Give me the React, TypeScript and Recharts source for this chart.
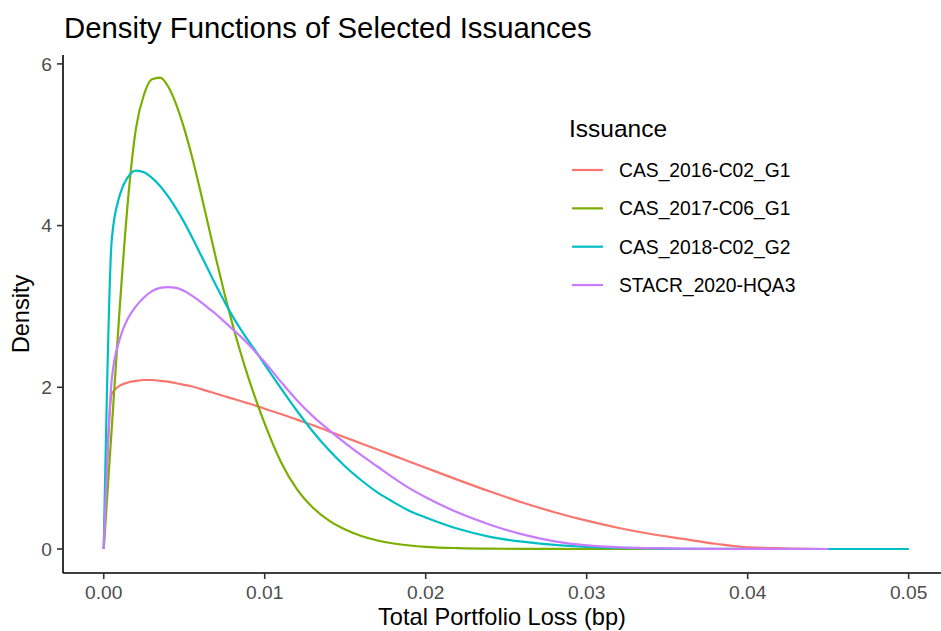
import { LineChart, Line, XAxis, YAxis, Legend, Label } from "recharts";

const FONT = "'Liberation Sans', Arial, Helvetica, sans-serif";

// loss grid (bp) shared by all four density curves
const lossGrid = [
  0, 0.0005, 0.001, 0.0015, 0.002, 0.0025, 0.003, 0.0035, 0.004, 0.0045, 0.005,
  0.0055, 0.006, 0.0065, 0.007, 0.0075, 0.008, 0.0085, 0.009, 0.0095, 0.01,
  0.011, 0.012, 0.013, 0.014, 0.015, 0.016, 0.017, 0.018, 0.019, 0.02,
  0.022, 0.024, 0.026, 0.028, 0.03, 0.032, 0.034, 0.036, 0.038, 0.04,
  0.045, 0.05,
];

const cas2016 = [
  0, 1.92, 2.02, 2.06, 2.08, 2.09, 2.09, 2.08, 2.07, 2.05, 2.03,
  2.01, 1.98, 1.95, 1.92, 1.89, 1.86, 1.83, 1.8, 1.77, 1.735,
  1.67, 1.6, 1.53, 1.455, 1.38, 1.305, 1.23, 1.155, 1.08, 1.005,
  0.855, 0.71, 0.575, 0.455, 0.35, 0.26, 0.185, 0.125, 0.065, 0.02,
  0, null,
];

const cas2017 = [
  0, 1.5, 3.0, 4.3, 5.2, 5.62, 5.81, 5.83, 5.72, 5.5, 5.2,
  4.84, 4.43, 4.0, 3.57, 3.16, 2.78, 2.43, 2.11, 1.82, 1.55,
  1.08, 0.74, 0.51, 0.35, 0.24, 0.16, 0.105, 0.068, 0.043, 0.027,
  0.011, 0.004, 0.002, 0.001, 0, 0, 0, 0, 0, 0,
  0, 0,
];

const cas2018 = [
  0, 3.83, 4.38, 4.6, 4.68, 4.66, 4.59, 4.49, 4.36, 4.21, 4.04,
  3.85, 3.65, 3.45, 3.25, 3.06, 2.88, 2.72, 2.57, 2.43, 2.28,
  1.99, 1.71, 1.45, 1.22, 1.02, 0.85, 0.7, 0.58, 0.47, 0.39,
  0.25, 0.15, 0.09, 0.05, 0.027, 0.014, 0.007, 0.003, 0.001, 0,
  0, 0,
];

const stacr2020 = [
  0, 2.1, 2.6, 2.85, 3.0, 3.11, 3.19, 3.23, 3.24, 3.23, 3.19,
  3.13, 3.06, 2.98, 2.9, 2.81, 2.72, 2.63, 2.53, 2.42, 2.31,
  2.07, 1.84, 1.64, 1.47, 1.31, 1.16, 1.02, 0.88, 0.75, 0.64,
  0.45, 0.3, 0.18, 0.095, 0.045, 0.02, 0.01, 0.005, 0.002, 0.001,
  0, null,
];

const xTicks = [0, 0.01, 0.02, 0.03, 0.04, 0.05];
const yTicks = [0, 2, 4, 6];

const issuances = [
  { key: "cas2016", name: "CAS_2016-C02_G1", color: "#F8766D", values: cas2016 },
  { key: "cas2017", name: "CAS_2017-C06_G1", color: "#7CAE00", values: cas2017 },
  { key: "cas2018", name: "CAS_2018-C02_G2", color: "#00BFC4", values: cas2018 },
  { key: "stacr2020", name: "STACR_2020-HQA3", color: "#C77CFF", values: stacr2020 },
];

const rows = lossGrid.map((loss, i) => {
  const row: Record<string, number | null> = { loss };
  issuances.forEach((s) => { row[s.key] = s.values[i]; });
  return row;
});

function IssuanceLegend() {
  return (
    <svg width={330} height={210} style={{ fontFamily: FONT, display: "block" }}>
      <text x={9} y={36.7} fontSize={24.5} fill="#000">Issuance</text>
      {issuances.map((s, i) => {
        const cy = 70 + i * 38.35;
        return (
          <g key={s.key}>
            <line x1={12} x2={43} y1={cy} y2={cy} stroke={s.color} strokeWidth={2.2} />
            <text x={59} y={cy + 6.9} fontSize={19.3} fill="#000">{s.name}</text>
          </g>
        );
      })}
    </svg>
  );
}

export default function App() {
  return (
    <div style={{ position: "absolute", left: 0, top: 0, width: 941, height: 631, fontFamily: FONT, background: "#fff" }}>
      <div style={{ position: "absolute", left: 64, top: 13, fontSize: 29.3, lineHeight: "29.3px", color: "#000", whiteSpace: "nowrap" }}>
        Density Functions of Selected Issuances
      </div>
      <LineChart width={941} height={631} data={rows} margin={{ top: 55, right: 0, bottom: 0, left: 0 }}>
        <XAxis
          dataKey="loss"
          type="number"
          domain={[-0.00253, 0.05201]}
          allowDataOverflow
          ticks={xTicks}
          tickFormatter={(v: number) => v.toFixed(2)}
          height={58}
          axisLine={{ stroke: "#000", strokeWidth: 1.6 }}
          tickLine={{ stroke: "#333", strokeWidth: 1.6 }}
          tickSize={6}
          tickMargin={6.2}
          tick={{ fill: "#4D4D4D", fontSize: 19.2 }}
        >
          <Label
            content={({ viewBox }: any) => (
              <text x={viewBox.x + viewBox.width / 2} y={624.5} textAnchor="middle" fontSize={23.6} fill="#000">
                Total Portfolio Loss (bp)
              </text>
            )}
          />
        </XAxis>
        <YAxis
          type="number"
          domain={[-0.297, 6.11]}
          allowDataOverflow
          ticks={yTicks}
          width={63}
          axisLine={{ stroke: "#000", strokeWidth: 1.6 }}
          tickLine={{ stroke: "#333", strokeWidth: 1.6 }}
          tickSize={6}
          tickMargin={5}
          tick={{ fill: "#4D4D4D", fontSize: 19.2 }}
        >
          <Label
            content={({ viewBox }: any) => {
              const cy = viewBox.y + viewBox.height / 2;
              return (
                <text x={29} y={cy} transform={`rotate(-90, 29, ${cy})`} textAnchor="middle" fontSize={23.6} fill="#000">
                  Density
                </text>
              );
            }}
          />
        </YAxis>
        <Legend
          layout="vertical"
          align="center"
          verticalAlign="middle"
          wrapperStyle={{ left: 560, top: 100, width: 330, height: 210 }}
          content={() => <IssuanceLegend />}
        />
        {issuances.map((s) => (
          <Line
            key={s.key}
            dataKey={s.key}
            name={s.name}
            type="monotone"
            stroke={s.color}
            strokeWidth={2.2}
            dot={false}
            activeDot={false}
            isAnimationActive={false}
          />
        ))}
      </LineChart>
    </div>
  );
}
